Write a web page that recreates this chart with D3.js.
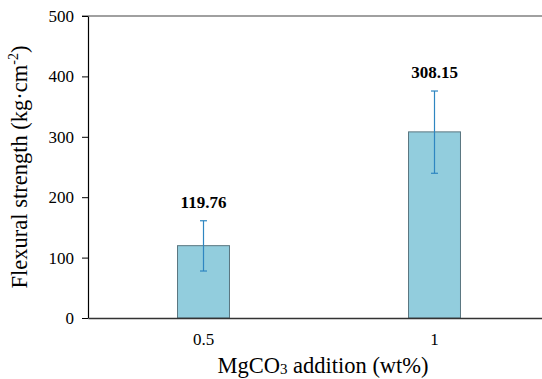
<!DOCTYPE html>
<html>
<head>
<meta charset="utf-8">
<script src="https://cdn.jsdelivr.net/npm/d3@7"></script>
<style>
  body { margin: 0; background: #fff; }
  svg text { font-family: "Liberation Serif", "Times New Roman", serif; }
</style>
</head>
<body>
<svg id="chart" width="542" height="379"></svg>
<script>
// --- data ---
var categories = ["0.5", "1"]
var strength = [119.76, 308.15]
var errLow = [77.8, 239.6]
var errHigh = [161.0, 375.8]
var yTicks = [0, 100, 200, 300, 400, 500]

var W = 542, H = 379
var plotLeft = 88, plotTop = 16, plotBottom = 318, plotRight = 550

var svg = d3.select("#chart")

var x = d3.scaleBand().domain(categories).range([plotLeft, plotRight]).paddingInner(0.775).paddingOuter(0.3875)
var y = d3.scaleLinear().domain([0, 500]).range([plotBottom, plotTop])

// top border line
svg.append("line")
    .attr("x1", plotLeft - 6).attr("x2", W)
    .attr("y1", y(500)).attr("y2", y(500))
    .attr("stroke", "#808080").attr("stroke-width", 1.3)

// bars
svg.selectAll("rect.bar").data(strength).enter().append("rect")
    .attr("class", "bar")
    .attr("x", function(d, i) { return x(categories[i]) })
    .attr("width", x.bandwidth())
    .attr("y", function(d) { return y(d) })
    .attr("height", function(d) { return y(0) - y(d) })
    .attr("fill", "#92cddd")
    .attr("stroke", "#5a7680").attr("stroke-width", 1)

// error bars
var eb = svg.selectAll("g.err").data(strength).enter().append("g").attr("class", "err")
eb.each(function(d, i) {
    var g = d3.select(this)
    var cx = x(categories[i]) + x.bandwidth() / 2
    g.append("line").attr("x1", cx).attr("x2", cx)
        .attr("y1", y(errHigh[i])).attr("y2", y(errLow[i]))
    g.append("line").attr("x1", cx - 3.5).attr("x2", cx + 3.5)
        .attr("y1", y(errHigh[i])).attr("y2", y(errHigh[i]))
    g.append("line").attr("x1", cx - 3.5).attr("x2", cx + 3.5)
        .attr("y1", y(errLow[i])).attr("y2", y(errLow[i]))
})
eb.selectAll("line").attr("stroke", "#2e86c1").attr("stroke-width", 1.2)

// value labels
svg.selectAll("text.val").data(strength).enter().append("text")
    .attr("class", "val")
    .attr("x", function(d, i) { return x(categories[i]) + x.bandwidth() / 2 })
    .attr("y", function(d, i) { return y(errHigh[i]) - 13 })
    .attr("text-anchor", "middle")
    .attr("font-size", 17).attr("font-weight", "bold")
    .text(function(d) { return d.toFixed(2) })

// y axis
var yAxis = svg.append("g")
    .attr("transform", "translate(" + plotLeft + ",0)")
    .call(d3.axisLeft(y).tickValues(yTicks).tickSize(6).tickPadding(8).tickSizeOuter(0))
yAxis.select(".domain").attr("stroke", "#000").attr("stroke-width", 1.2)
yAxis.selectAll(".tick line").attr("stroke", "#000")
yAxis.selectAll(".tick text").attr("font-size", 17).attr("fill", "#000")
    .style("font-family", "Liberation Serif")

// x axis
var xAxis = svg.append("g")
    .attr("transform", "translate(0," + plotBottom + ")")
    .call(d3.axisBottom(x).tickSize(0).tickPadding(15).tickSizeOuter(0))
xAxis.select(".domain").attr("stroke", "#333").attr("stroke-width", 1.5)
xAxis.selectAll(".tick text").attr("font-size", 17).attr("fill", "#000")
    .style("font-family", "Liberation Serif")

// axis titles
var yt = svg.append("text")
    .attr("transform", "translate(27,167) rotate(-90)")
    .attr("text-anchor", "middle")
    .attr("font-size", 22.5)
yt.append("tspan").text("Flexural strength (kg·cm")
yt.append("tspan").attr("font-size", 14).attr("dy", -9).text("-2")
yt.append("tspan").attr("dy", 9).text(")")

var xt = svg.append("text")
    .attr("x", 323).attr("y", 373)
    .attr("text-anchor", "middle")
    .attr("font-size", 22.5)
xt.append("tspan").text("MgCO")
xt.append("tspan").attr("font-size", 15).attr("dy", 1).text("3")
xt.append("tspan").attr("dy", -1).text(" addition (wt%)")
</script>
</body>
</html>
